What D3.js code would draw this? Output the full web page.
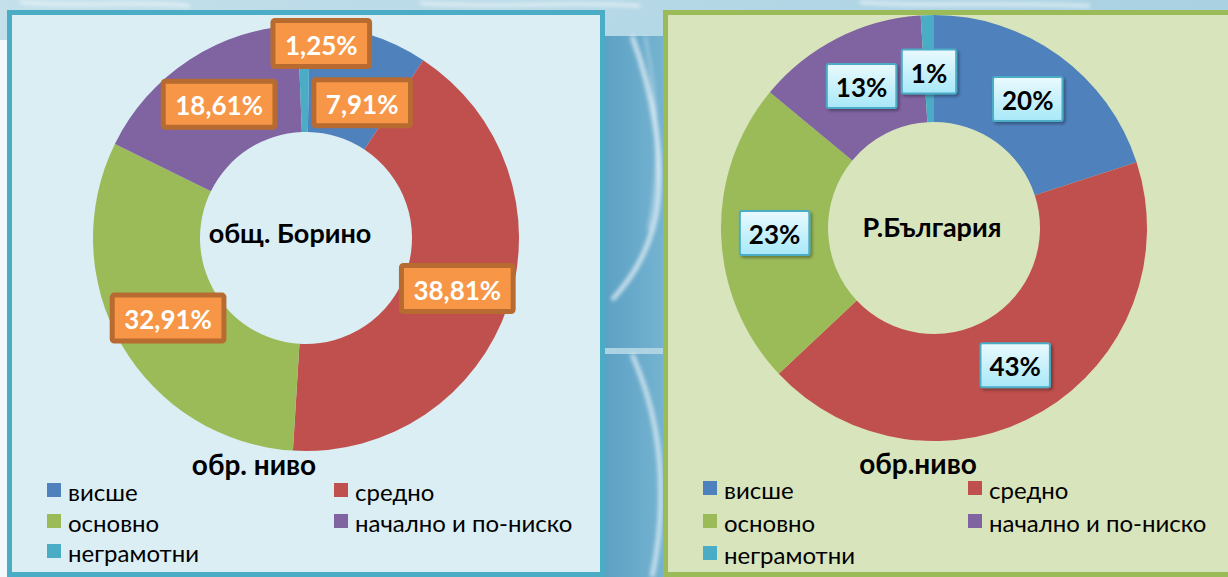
<!DOCTYPE html>
<html>
<head>
<meta charset="utf-8">
<script src="https://cdn.jsdelivr.net/npm/d3@7"></script>
<style>
  body { margin: 0; overflow: hidden; background: #fff; }
  text { font-family: Lato, "Open Sans", sans-serif; }
</style>
</head>
<body>
<div id="chart"></div>
<script>
const categories = ["висше", "средно", "основно", "начално и по-ниско", "неграмотни"];
const sliceColors = ["#4f81bd", "#c0504d", "#9bbb59", "#8064a2", "#4bacc6"];

// общ. Борино: slice sizes as drawn (%), and the labels printed on them
const borinoValues = [9.0, 41.7, 31.3, 17.1, 0.9];
const borinoLabels = ["7,91%", "38,81%", "32,91%", "18,61%", "1,25%"];

// Р.България
const bulgariaValues = [20, 43, 23, 13, 1];
const bulgariaLabels = ["20%", "43%", "23%", "13%", "1%"];

const width = 1228, height = 577;

const svg = d3.select("#chart").append("svg")
  .attr("width", width)
  .attr("height", height);

const defs = svg.append("defs");

const bgGrad = defs.append("linearGradient").attr("id", "bg")
  .attr("x1", 0).attr("y1", 0).attr("x2", 1).attr("y2", 1);
bgGrad.append("stop").attr("offset", "0%").attr("stop-color", "#c4e0eb");
bgGrad.append("stop").attr("offset", "50%").attr("stop-color", "#a9d1e2");
bgGrad.append("stop").attr("offset", "100%").attr("stop-color", "#c9e3ee");

const gapGrad = defs.append("linearGradient").attr("id", "gap")
  .attr("x1", 0).attr("y1", 0).attr("x2", 1).attr("y2", 0);
gapGrad.append("stop").attr("offset", "0%").attr("stop-color", "#5a9fc2");
gapGrad.append("stop").attr("offset", "100%").attr("stop-color", "#76b4d2");

const boxGrad = defs.append("linearGradient").attr("id", "cyanBox")
  .attr("x1", 0).attr("y1", 0).attr("x2", 0).attr("y2", 1);
boxGrad.append("stop").attr("offset", "0%").attr("stop-color", "#eafafe");
boxGrad.append("stop").attr("offset", "100%").attr("stop-color", "#a8e8f8");

defs.append("filter").attr("id", "blur").append("feGaussianBlur").attr("stdDeviation", 2);
const shadow = defs.append("filter").attr("id", "shadow")
  .attr("x", "-20%").attr("y", "-20%").attr("width", "150%").attr("height", "150%");
shadow.append("feDropShadow").attr("dx", 2).attr("dy", 2).attr("stdDeviation", 1.5)
  .attr("flood-color", "#000").attr("flood-opacity", 0.35);

// background picture behind the two charts
svg.append("rect").attr("width", width).attr("height", height).attr("fill", "url(#bg)");
svg.append("rect").attr("x", 0).attr("y", 40).attr("width", 8).attr("height", height - 40).attr("fill", "#f2f8fb");
svg.append("rect").attr("x", 600).attr("y", 36).attr("width", 66).attr("height", 312).attr("fill", "url(#gap)");
svg.append("rect").attr("x", 600).attr("y", 354).attr("width", 66).attr("height", 223).attr("fill", "url(#gap)");

const swirls = svg.append("g").attr("filter", "url(#blur)").attr("fill", "none").attr("stroke", "#fff");
swirls.append("path").attr("d", "M632,36 C652,90 666,160 656,215 C648,255 630,280 612,300")
  .attr("stroke-width", 4).attr("opacity", 0.8);
swirls.append("path").attr("d", "M645,36 C658,100 662,170 648,230")
  .attr("stroke-width", 2).attr("opacity", 0.5);
swirls.append("path").attr("d", "M632,354 C652,400 664,450 660,520 C658,550 652,577 652,577")
  .attr("stroke-width", 4).attr("opacity", 0.75);
swirls.append("path").attr("d", "M20,2 C80,8 140,0 190,6 M420,3 C520,9 560,0 640,6 M860,2 C930,8 980,1 1090,6")
  .attr("stroke-width", 3).attr("opacity", 0.7);

function drawPanel(cfg) {
  const g = svg.append("g");

  g.append("rect")
    .attr("x", cfg.x + 2.5).attr("y", cfg.y + 2.5)
    .attr("width", cfg.w - 5).attr("height", cfg.h - 5)
    .attr("fill", cfg.fill)
    .attr("stroke", cfg.border)
    .attr("stroke-width", 5);

  const pie = d3.pie().sort(null)
    .startAngle(cfg.startDeg * Math.PI / 180)
    .endAngle((cfg.startDeg + 360) * Math.PI / 180);
  const arcs = pie(cfg.values);

  const arc = d3.arc().innerRadius(cfg.inner).outerRadius(cfg.outer);

  const donut = g.append("g").attr("transform", `translate(${cfg.cx}, ${cfg.cy})`);

  donut.selectAll("path")
    .data(arcs)
    .enter()
    .append("path")
    .attr("d", arc)
    .attr("fill", (d, i) => sliceColors[i]);

  // centre caption
  g.append("text")
    .attr("x", cfg.cx + cfg.titleDx).attr("y", cfg.cy + cfg.titleDy)
    .attr("text-anchor", "middle")
    .attr("dominant-baseline", "central")
    .style("font-weight", "bold")
    .style("font-size", cfg.titleSize + "px")
    .attr("fill", "#000")
    .text(cfg.title);

  // data labels, centred on the slices (a few nudged as in the original)
  arcs.forEach((d, i) => {
    const c = arc.centroid(d);
    const nudge = cfg.nudge[i] || [0, 0];
    const lx = cfg.cx + c[0] + nudge[0];
    const ly = cfg.cy + c[1] + nudge[1];
    const lg = g.append("g").attr("transform", `translate(${lx}, ${ly})`);
    const box = lg.append("rect");
    const t = lg.append("text")
      .attr("text-anchor", "middle")
      .attr("dominant-baseline", "central")
      .attr("y", 1)
      .style("font-weight", "bold")
      .style("font-size", cfg.labelSize + "px")
      .attr("fill", cfg.labelColor)
      .text(cfg.labels[i]);
    const tw = t.node().getComputedTextLength();
    const bw = tw + cfg.boxPad * 2, bh = cfg.boxH;
    box.attr("x", -bw / 2).attr("y", -bh / 2)
      .attr("width", bw).attr("height", bh)
      .attr("rx", 2)
      .attr("fill", cfg.boxFill)
      .attr("stroke", cfg.boxStroke)
      .attr("stroke-width", cfg.boxStrokeW);
    if (cfg.boxShadow) box.attr("filter", "url(#shadow)");
  });

  // legend
  g.append("text")
    .attr("x", cfg.legendTitleX).attr("y", cfg.legendTitleY)
    .attr("text-anchor", "middle")
    .attr("dominant-baseline", "central")
    .style("font-weight", "bold")
    .style("font-size", "28px")
    .text(cfg.legendTitle);

  const legend = g.selectAll(".legend")
    .data(categories)
    .enter()
    .append("g")
    .attr("transform", (d, i) => `translate(${cfg.legendCols[i % 2]}, ${cfg.legendRows[Math.floor(i / 2)]})`);
  legend.append("rect")
    .attr("x", 0).attr("y", -7).attr("width", 14).attr("height", 14)
    .attr("fill", (d, i) => sliceColors[i]);
  legend.append("text")
    .attr("x", 21).attr("y", 1)
    .attr("dominant-baseline", "central")
    .style("font-size", "24px")
    .attr("fill", "#000")
    .text(d => d);
}

drawPanel({
  x: 7, y: 10, w: 598, h: 567,
  fill: "#dbeef4", border: "#4bacc6",
  cx: 306, cy: 238, inner: 106, outer: 213, startDeg: 1,
  values: borinoValues, labels: borinoLabels,
  title: "общ. Борино", titleDx: -16, titleDy: -6, titleSize: 27,
  labelSize: 26, labelColor: "#fff",
  boxFill: "#f79646", boxStroke: "#b76b30", boxStrokeW: 5, boxPad: 12, boxH: 46, boxShadow: false,
  nudge: { 0: [9, 17], 4: [17, -35] },
  legendTitle: "обр. ниво", legendTitleX: 254, legendTitleY: 464,
  legendCols: [47, 334], legendRows: [490, 521, 551]
});

drawPanel({
  x: 663, y: 10, w: 580, h: 567,
  fill: "#d8e4bc", border: "#9bbb59",
  cx: 934, cy: 228, inner: 106, outer: 213, startDeg: 0,
  values: bulgariaValues, labels: bulgariaLabels,
  title: "Р.България", titleDx: -2, titleDy: -2, titleSize: 27,
  labelSize: 26, labelColor: "#000",
  boxFill: "url(#cyanBox)", boxStroke: "#4bacc6", boxStrokeW: 2, boxPad: 9, boxH: 44, boxShadow: true,
  nudge: { 4: [0, 3] },
  legendTitle: "обр.ниво", legendTitleX: 918, legendTitleY: 463,
  legendCols: [703, 968], legendRows: [488, 521, 553]
});
</script>
</body>
</html>
